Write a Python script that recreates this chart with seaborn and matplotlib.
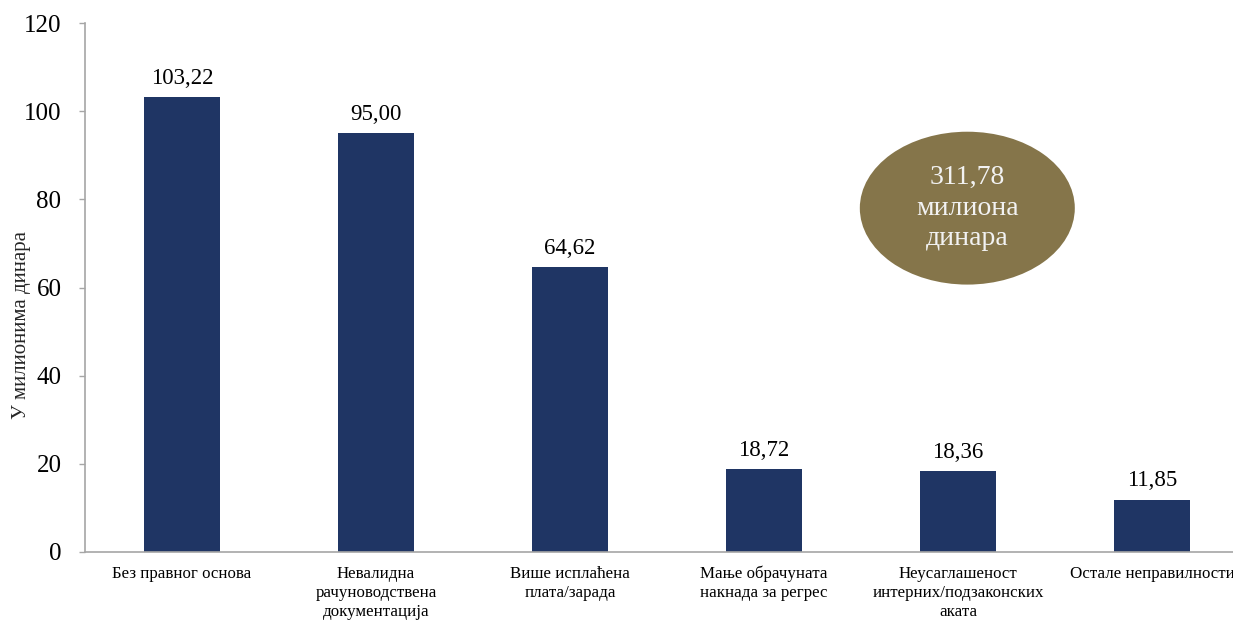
import matplotlib
matplotlib.use("Agg")
import matplotlib.pyplot as plt
import matplotlib.transforms as mtransforms
import seaborn as sns
import pandas as pd
from matplotlib.patches import Ellipse

categories = [
    "Без правног основа",
    "Невалидна\nрачуноводствена\nдокументација",
    "Више исплаћена\nплата/зарада",
    "Мање обрачуната\nнакнада за регрес",
    "Неусаглашеност\nинтерних/подзаконских\nаката",
    "Остале неправилности",
]
values = [103.22, 95.00, 64.62, 18.72, 18.36, 11.85]
total_text = "311,78\nмилиона\nдинара"
y_ticks = [0, 20, 40, 60, 80, 100, 120]

BAR_COLOR = "#1F3564"
ELLIPSE_COLOR = "#85754A"
AXIS_COLOR = "#A6A6A6"

sns.set_theme(style="white")
plt.rcParams['font.family'] = ['Liberation Serif', 'DejaVu Serif']

df = pd.DataFrame({"category": categories, "value": values})

fig = plt.figure(figsize=(12.33, 6.21), dpi=100)
ax = fig.add_axes([85 / 1233, 69 / 621, 1164 / 1233, 529 / 621])

sns.barplot(data=df, x="category", y="value", color=BAR_COLOR, saturation=1,
            width=0.39, linewidth=0, ax=ax)

labels = ["{:.2f}".format(v).replace(".", ",") for v in values]
ax.bar_label(ax.containers[0], labels=labels, padding=6, fontsize=16.5, color="black")

ax.set_xlim(-0.5, len(categories) - 0.5)
ax.set_ylim(0, 120)
ax.set_yticks(y_ticks)
ax.set_yticklabels([str(t) for t in y_ticks], fontsize=18)
ax.set_xticks(range(len(categories)))
ax.set_xticklabels(categories, fontsize=12.2, linespacing=1.25)
ax.set_xticks([i - 0.5 for i in range(len(categories) + 1)], minor=True)

# last label sits right at the figure edge in the original, nudge it in a bit
last = ax.get_xticklabels()[-1]
last.set_transform(last.get_transform() + mtransforms.ScaledTranslation(-4 / 100, 0, fig.dpi_scale_trans))

ax.tick_params(axis="x", which="major", length=0, pad=10, colors="black")
ax.tick_params(axis="x", which="minor", length=4, width=1, color=AXIS_COLOR, direction="out")
ax.tick_params(axis="y", length=4, width=1, color=AXIS_COLOR, direction="out",
               pad=13, labelcolor="black", left=True)

for side in ["top", "right"]:
    ax.spines[side].set_visible(False)
for side in ["left", "bottom"]:
    ax.spines[side].set_color(AXIS_COLOR)
    ax.spines[side].set_linewidth(1.2)

ax.set_xlabel("")
ax.set_ylabel("У милионима динара", fontsize=15)
ax.yaxis.set_label_coords(-0.046, 0.43)

# total amount bubble
ell = Ellipse((0.758, 0.650), 0.1847, 0.289, transform=ax.transAxes,
              facecolor=ELLIPSE_COLOR, edgecolor="none", zorder=5)
ax.add_patch(ell)
ax.text(0.758, 0.650, total_text, transform=ax.transAxes, ha="center", va="center",
        fontsize=20, color="#F2F2F2", linespacing=1.3, zorder=6)

fig.savefig("out.png", dpi=100)
